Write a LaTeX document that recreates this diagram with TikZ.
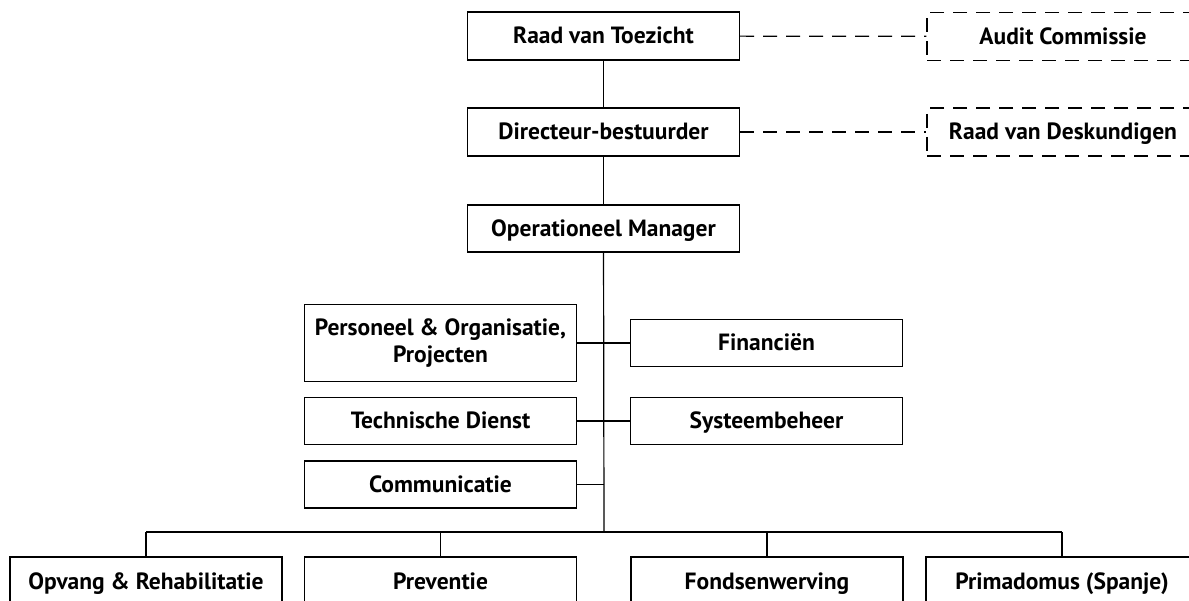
\documentclass[tikz,border=0pt]{standalone}
\usepackage{fontspec}
\setmainfont{PT Sans}
\usetikzlibrary{positioning}

\begin{document}
\begin{tikzpicture}[x=1pt, y=-1pt, line width=1.2pt,
    every node/.style={font=\fontsize{23.5}{27}\selectfont\bfseries, align=center},
    unit/.style={draw, minimum width=272pt, minimum height=48pt, inner sep=0pt,
      text height=17pt, text depth=1pt},
    advies/.style={unit, dash pattern=on 14pt off 9pt},
    link/.style={dash pattern=on 14pt off 9pt}]
  \useasboundingbox (0,0) rectangle (1189,601);
  % top of the organisation
  \node[unit] (rvt) at (603.5,36) {Raad van Toezicht};
  \node[unit] (dir) at (603.5,132) {Directeur-bestuurder};
  \node[unit, minimum height=47pt] (om) at (603.5,228.5) {Operationeel Manager};
  \node[advies] (audit) at (1063,36.5) {Audit Commissie};
  \node[advies] (rvd) at (1063,132) {Raad van Deskundigen};
  \draw (rvt) -- (dir);
  \draw (dir) -- (om);
  \draw[link] (rvt) -- (audit);
  \draw[link] (dir) -- (rvd);
  % staff
  \node[unit, minimum height=77pt, text height={}, text depth={}] (po) at (440.5,343) {Personeel \& Organisatie,\\Projecten};
  \node[unit, minimum height=47pt] (fin) at (766.5,343) {Financiën};
  \node[unit, minimum height=47pt] (td) at (440.5,421) {Technische Dienst};
  \node[unit, minimum height=47pt] (sys) at (766.5,421) {Systeembeheer};
  \node[unit, minimum height=47pt] (com) at (440.5,484.5) {Communicatie};
  \coordinate (bus) at (604,532);
  \draw (om) -- (bus);
  \draw (po) -- (fin);
  \draw (td) -- (sys);
  \draw (com.east) -- (com.east -| bus);
  % departments
  \node[unit] (opv) at (146,581) {Opvang \& Rehabilitatie};
  \node[unit] (prev) at (440.5,581) {Preventie};
  \node[unit] (fonds) at (767,581) {Fondsenwerving};
  \node[unit] (prim) at (1062,581) {Primadomus (Spanje)};
  \draw (opv.north |- bus) -- (prim.north |- bus);
  \foreach \d in {opv, prev, fonds, prim}
    \draw (\d.north |- bus) -- (\d);
\end{tikzpicture}
\end{document}
